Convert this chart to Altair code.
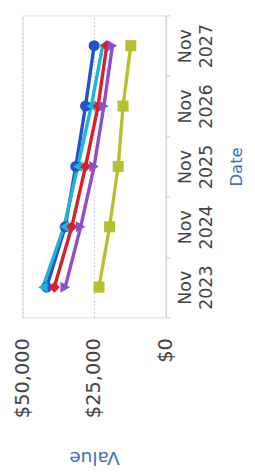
import altair as alt
import pandas as pd

dates = ["Nov 2023", "Nov 2024", "Nov 2025", "Nov 2026", "Nov 2027"]
series_names = ["Series A", "Series B", "Series C", "Series D", "Series E"]
series_a = [41600, 35100, 31400, 28000, 25000]   # blue, circles
series_b = [42900, 35500, 30700, 26000, 22000]   # cyan, triangles
series_c = [38900, 32800, 28000, 23600, 20600]   # red
series_d = [35100, 29700, 25000, 21600, 18600]   # purple
series_e = [23300, 19600, 16600, 14900, 12200]   # olive, squares
colors = ["#2353c8", "#1fb3d9", "#d81f2c", "#8d4fc8", "#b7c12f"]
shapes = ["circle", "triangle-left", "diamond", "triangle-right", "square"]

all_values = [series_a, series_b, series_c, series_d, series_e]
rows = []
for name, vals in zip(series_names, all_values):
    for d, v in zip(dates, vals):
        rows.append({"Series": name, "Date": d, "Value": v})
df = pd.DataFrame(rows)

FONT = "DejaVu Sans"
TITLE_COLOR = "#3c72b8"
GRID = "#c3c8dc"

x_enc = alt.X(
    "Value:Q",
    scale=alt.Scale(domain=[0, 50000], reverse=True, nice=False),
    axis=alt.Axis(
        orient="bottom",
        values=[0, 25000, 50000],
        format="$,.0f",
        labelAngle=-90,
        labelAlign="right",
        labelBaseline="middle",
        labelFontSize=20,
        labelColor="#444444",
        labelFont=FONT,
        labelPadding=21,
        ticks=False,
        domain=False,
        grid=True,
        gridColor=GRID,
        gridDash=[2, 2],
        gridWidth=1,
        title="Value",
        titleAngle=180,
        titleBaseline="bottom",
        titleFontSize=19,
        titleFontWeight="normal",
        titleFont=FONT,
        titleColor=TITLE_COLOR,
        titlePadding=31,
    ),
)

y_enc = alt.Y(
    "Date:O",
    sort=dates[::-1],
    scale=alt.Scale(type="band", paddingInner=0, paddingOuter=0),
    axis=alt.Axis(
        orient="right",
        tickBand="extent",
        grid=False,
        domain=True,
        domainColor=GRID,
        domainDash=[2, 2],
        ticks=True,
        tickColor=GRID,
        tickSize=4,
        labelAngle=-90,
        labelAlign="center",
        labelBaseline="top",
        labelExpr="split(datum.label, ' ')",
        labelLineHeight=21,
        labelFontSize=18,
        labelColor="#444444",
        labelFont=FONT,
        labelPadding=8,
        title="Date",
        titleAngle=270,
        titleBaseline="middle",
        titleFontSize=17,
        titleFontWeight="normal",
        titleFont=FONT,
        titleColor=TITLE_COLOR,
        titlePadding=22,
    ),
)

color_enc = alt.Color("Series:N", scale=alt.Scale(domain=series_names, range=colors), legend=None)
shape_enc = alt.Shape("Series:N", scale=alt.Scale(domain=series_names, range=shapes), legend=None)

base = alt.Chart(df).encode(x=x_enc, y=y_enc, color=color_enc)

lines = base.mark_line(strokeWidth=3.5)
points = base.mark_point(filled=True, size=130, opacity=1).encode(shape=shape_enc)

chart = (
    alt.layer(lines, points)
    .properties(
        width=148,
        height=312,
        autosize=alt.AutoSizeParams(type="none"),
        padding={"left": 15, "top": 0, "right": 84, "bottom": 150},
    )
    .configure_view(stroke=None)
    .configure(background="white")
)

chart.save("out.html", embed_options={"renderer": "svg", "actions": False})
